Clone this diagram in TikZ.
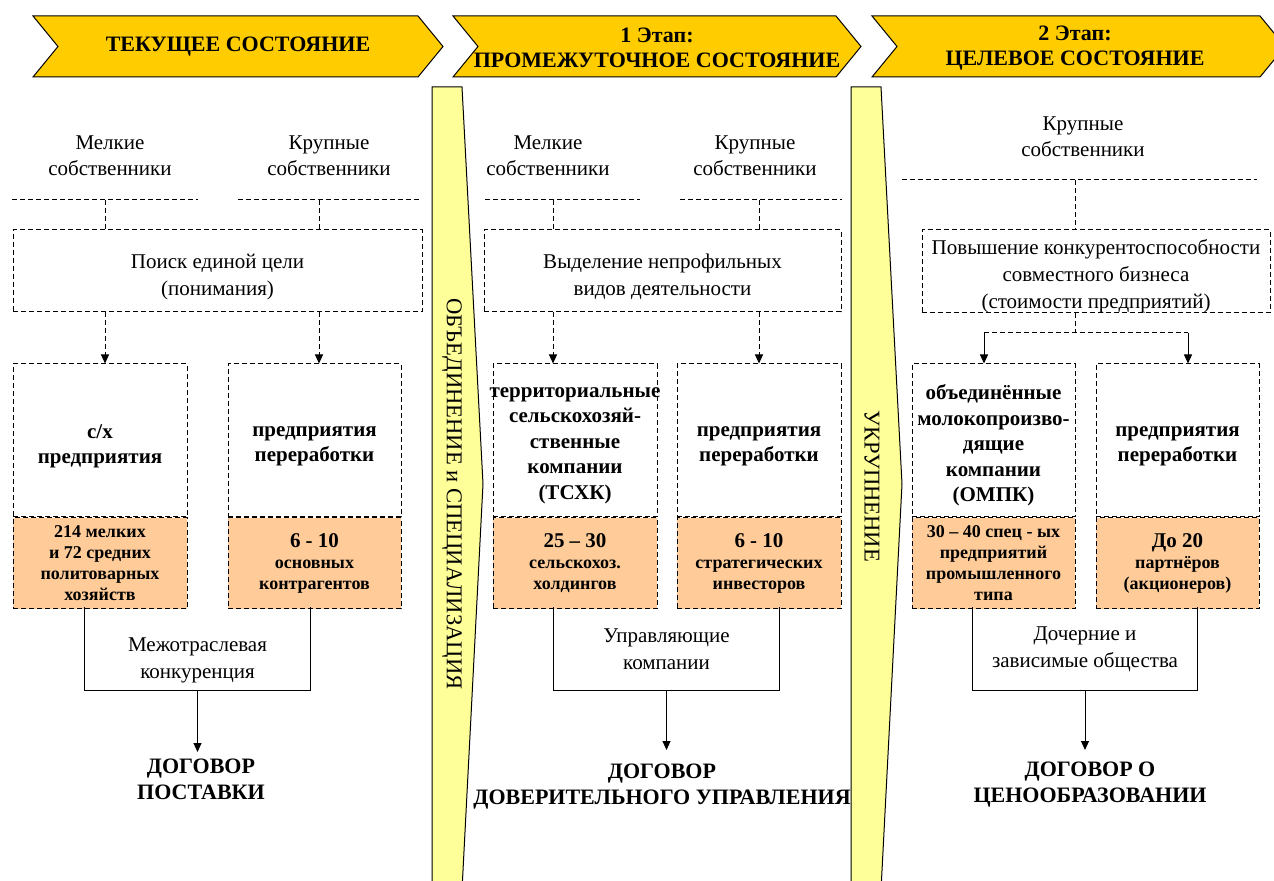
\documentclass[tikz,border=0pt]{standalone}
\usepackage{fontspec}
\setmainfont{Liberation Serif}
\usetikzlibrary{arrows.meta,positioning}
\definecolor{headgold}{HTML}{FFCC00}
\definecolor{bandyellow}{HTML}{FFFF99}
\definecolor{numtan}{HTML}{FFCC99}
\newcommand{\numbig}[1]{{\fontsize{10.5}{12}\selectfont #1}}% bigger first line in tan cells
\newcommand{\wideline}[1]{\makebox[0pt]{#1}}% line wider than its cell

\begin{document}
\begin{tikzpicture}[
          x = 0.5pt, y = -0.5pt,
          > = {Triangle[length=4.5pt,width=4pt]},
 line width = 0.5pt,
 dashline/.style = {dash pattern=on 2.5pt off 1.5pt},
   header/.style = {draw, fill=headgold},% chevrons on top
     band/.style = {draw, fill=bandyellow},% vertical arrows between stages
    htext/.style = {font=\fontsize{11}{12.5}\selectfont\bfseries, align=center},
    btext/.style = {font=\fontsize{11.3}{13}\selectfont, rotate=-90},
    owner/.style = {font=\fontsize{10.5}{13}\selectfont, align=center},
     goal/.style = {draw, dashline, inner sep=0pt, minimum height=41pt},
 goaltext/.style = {font=\fontsize{10.5}{13.5}\selectfont, align=center, yshift=-3pt},
     firm/.style = {draw, dashline, inner sep=0pt, minimum height=76.5pt},
 firmtext/.style = {font=\fontsize{10.5}{12.75}\selectfont\bfseries, align=center, yshift=-3pt},
  firmnum/.style = {draw, dashline, fill=numtan, inner sep=0pt, minimum height=45.5pt,
                    font=\fontsize{9}{10.5}\selectfont\bfseries, align=center},
     ubox/.style = {inner sep=0pt, minimum height=41pt},% open box under the cells
   ulabel/.style = {font=\fontsize{10.5}{13.5}\selectfont, align=center},
     deal/.style = {font=\fontsize{11}{13}\selectfont\bfseries, align=center,
                    anchor=north, inner sep=2pt},
]
\useasboundingbox (0,0) rectangle (1274,881);
% headers
\foreach \l/\r in {33/443, 453/861, 872/1285}
  \draw[header] (\l,16) -- (\r-25,16) -- (\r,46.5) -- (\r-25,77) -- (\l,77) -- (\l+25,46.5) -- cycle;
\node[htext] (h1) at (238,47) {ТЕКУЩЕЕ СОСТОЯНИЕ};
\node[htext] (h2) at (657,48) {1 Этап:\\ПРОМЕЖУТОЧНОЕ СОСТОЯНИЕ};
\node[htext] (h3) at (1075,48) {2 Этап:\\ЦЕЛЕВОЕ СОСТОЯНИЕ};
% bands between the stages
\foreach \l in {432,851}
  \draw[band] (\l,87) -- (\l+30,87) -- (\l+51,484) -- (\l+30,890) -- (\l,890) -- cycle;
\node[btext] (b1) at (452,494) {ОБЪЕДИНЕНИЕ и СПЕЦИАЛИЗАЦИЯ};
\node[btext] (b2) at (872,486) {УКРУПНЕНИЕ};

% ---- current state
\node[owner] (own1s) at (110,156) {Мелкие\\собственники};
\node[owner] (own1l) at (329,156) {Крупные\\собственники};
\node[goal, minimum width=204.5pt] (goal1) at (217.5,271) {};
\node[goaltext] (gt1) at (goal1) {Поиск единой цели\\(понимания)};
\node[firm, minimum width=87pt] (firm1s) at (100,440.5) {};
\node[firmtext] (ft1s) at (firm1s) {с/х\\предприятия};
\node[firmnum, minimum width=87pt, below=0pt of firm1s] (num1s)
     {214 мелких\\и 72 средних\\политоварных\\хозяйств};
\node[firm, minimum width=86.5pt] (firm1l) at (314.5,440.5) {};
\node[firmtext] (ft1l) at (firm1l) {предприятия\\переработки};
\node[firmnum, minimum width=86.5pt, below=0pt of firm1l] (num1l)
     {\numbig{6 - 10}\\основных\\контрагентов};
\coordinate (c1s) at (105,200);
\coordinate (c1l) at (319,200);
\draw[dashline] (12,200) -- (198,200);
\draw[dashline] (238,200) -- (422,200);
\foreach \c in {c1s,c1l} {
  \draw[dashline] (\c) -- (\c |- goal1.north);
}
\draw[dashline,->] (c1s |- goal1.south) -- (c1s |- firm1s.north);
\draw[dashline,->] (c1l |- goal1.south) -- (c1l |- firm1l.north);
\node[ubox, minimum width=112.5pt] (u1) at (197.5,649) {};
\draw (u1.north west) |- (u1.south east) -- (u1.north east);
\node[ulabel] (comp1) at (197.5,660) {Межотраслевая\\конкуренция};
\node[deal] (deal1) at (201,754) {ДОГОВОР\\ПОСТАВКИ};
\draw[->, shorten >=1pt] (u1.south) -- (u1.south |- deal1.north);

% ---- stage 1
\node[owner] (own2s) at (548,156) {Мелкие\\собственники};
\node[owner] (own2l) at (755,156) {Крупные\\собственники};
\node[goal, minimum width=178.5pt] (goal2) at (662.5,271) {};
\node[goaltext] (gt2) at (goal2) {Выделение непрофильных\\видов деятельности};
\node[firm, minimum width=82pt] (firm2s) at (575,440.5) {};
\node[firmtext, yshift=0.5pt] (ft2s) at (firm2s)
     {\wideline{территориальные}\\сельскохозяй-\\ственные\\компании\\(ТСХК)};
\node[firmnum, minimum width=82pt, below=0pt of firm2s] (num2s)
     {\numbig{25 – 30}\\сельскохоз.\\холдингов};
\node[firm, minimum width=82pt] (firm2l) at (759,440.5) {};
\node[firmtext] (ft2l) at (firm2l) {предприятия\\переработки};
\node[firmnum, minimum width=82pt, below=0pt of firm2l] (num2l)
     {\numbig{6 - 10}\\стратегических\\инвесторов};
\coordinate (c2s) at (553,200);
\coordinate (c2l) at (759,200);
\draw[dashline] (485,200) -- (640,200);
\draw[dashline] (680,200) -- (842,200);
\foreach \c in {c2s,c2l} {
  \draw[dashline] (\c) -- (\c |- goal2.north);
}
\draw[dashline,->] (c2s |- goal2.south) -- (c2s |- firm2s.north);
\draw[dashline,->] (c2l |- goal2.south) -- (c2l |- firm2l.north);
\node[ubox, minimum width=112.5pt] (u2) at (666.5,649) {};
\draw (u2.north west) |- (u2.south east) -- (u2.north east);
\node[ulabel] (comp2) at (666.5,649) {Управляющие\\компании};
\node[deal] (deal2) at (662,759) {ДОГОВОР\\ДОВЕРИТЕЛЬНОГО УПРАВЛЕНИЯ};
\draw[->, shorten >=4.5pt] (u2.south) -- (u2.south |- deal2.north);

% ---- stage 2
\node[owner] (own3l) at (1083,137) {Крупные\\собственники};
\node[goal, minimum width=174pt, minimum height=41.5pt] (goal3) at (1096,271.5) {};
\node[goaltext, yshift=0.5pt] (gt3) at (goal3)
     {Повышение конкурентоспособности\\совместного бизнеса\\(стоимости предприятий)};
\node[firm, minimum width=81.5pt] (firm3s) at (993.5,440.5) {};
\node[firmtext, yshift=0.5pt] (ft3s) at (firm3s)
     {объединённые\\молокопроизво-\\дящие\\компании\\(ОМПК)};
\node[firmnum, minimum width=81.5pt, below=0pt of firm3s] (num3s)
     {30 – 40 спец - ых\\предприятий\\промышленного\\типа};
\node[firm, minimum width=81.5pt] (firm3l) at (1177.5,440.5) {};
\node[firmtext] (ft3l) at (firm3l) {предприятия\\переработки};
\node[firmnum, minimum width=81.5pt, below=0pt of firm3l] (num3l)
     {\numbig{До 20}\\партнёров\\(акционеров)};
\coordinate (c3) at (1075,180);
\coordinate (s3) at (1075,333);
\coordinate (s3s) at (984,333);
\coordinate (s3l) at (1188,333);
\draw[dashline] (902,180) -- (1257,180);
\draw[dashline] (c3) -- (c3 |- goal3.north);
\draw[dashline] (c3 |- goal3.south) -- (s3);
\draw[dashline] (s3s) -- (s3l);
\draw[->] (s3s) -- (s3s |- firm3s.north);
\draw[->] (s3l) -- (s3l |- firm3l.north);
\node[ubox, minimum width=112pt] (u3) at (1085,649) {};
\draw (u3.north west) |- (u3.south east) -- (u3.north east);
\node[ulabel] (comp3) at (1085,649) {Дочерние и\\зависимые общества};
\node[deal] (deal3) at (1090,757) {ДОГОВОР О\\ЦЕНООБРАЗОВАНИИ};
\draw[->, shorten >=3.5pt] (u3.south) -- (u3.south |- deal3.north);
\end{tikzpicture}
\end{document}
